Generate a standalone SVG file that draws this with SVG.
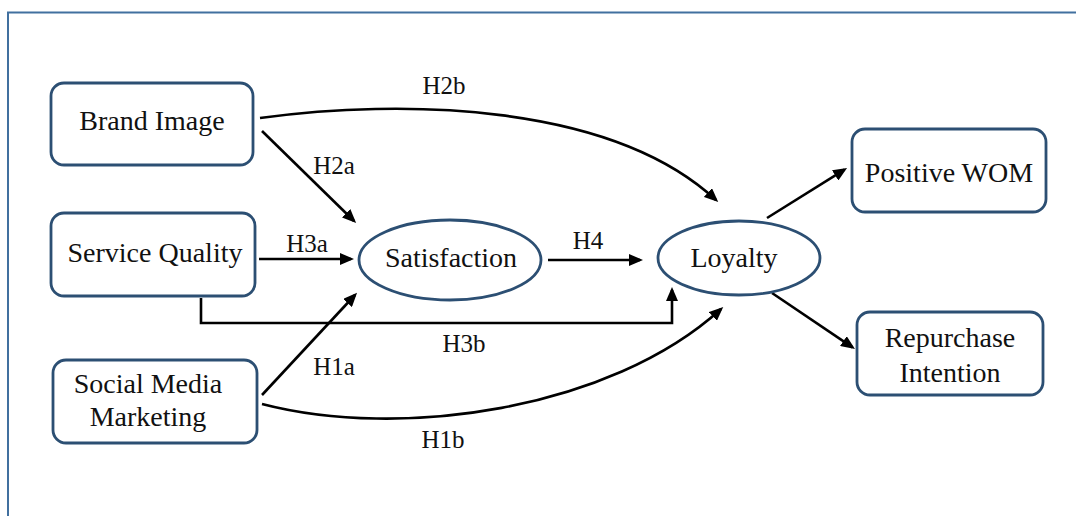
<svg xmlns="http://www.w3.org/2000/svg" width="1076" height="516" viewBox="0 0 1076 516">
<style>
.node{fill:#fff;stroke:#2c4f73;stroke-width:2.8}
.nt{font-family:"Liberation Serif","Times New Roman",serif;font-size:28px;fill:#111;text-anchor:middle}
.lb{font-family:"Liberation Serif","Times New Roman",serif;font-size:25px;fill:#111;text-anchor:middle}
.edge{fill:none;stroke:#000;stroke-width:2.6}
.frame{fill:none;stroke:#41709f;stroke-width:2}
</style>
<defs>
<marker id="arr" markerUnits="userSpaceOnUse" viewBox="0 0 14 12" markerWidth="14" markerHeight="12" refX="11" refY="6" orient="auto">
<path d="M0,0 L14,6 L0,12 z" fill="#000"/>
</marker>
</defs>
<rect width="1076" height="516" fill="#fff"/>
<path class="frame" d="M8,516 V12.5 H1076"/>
<g id="connectors">
<path id="e-h2a" class="edge" d="M262,131 L354,221" marker-end="url(#arr)"/>
<path id="e-h2b" class="edge" d="M260,118 C400,99 610,102 716,200" marker-end="url(#arr)"/>
<path id="e-h3a" class="edge" d="M259,259 H351" marker-end="url(#arr)"/>
<path id="e-h3b" class="edge" d="M201,298 V323 H672 V290" marker-end="url(#arr)"/>
<path id="e-h1a" class="edge" d="M262,395 L355,295" marker-end="url(#arr)"/>
<path id="e-h1b" class="edge" d="M262,404 C400,440 610,410 721,309" marker-end="url(#arr)"/>
<path id="e-h4" class="edge" d="M548,260 H640" marker-end="url(#arr)"/>
<path id="e-wom" class="edge" d="M767,218 L844.5,169.6" marker-end="url(#arr)"/>
<path id="e-rep" class="edge" d="M772,293 L852.5,347.3" marker-end="url(#arr)"/>
<text class="lb" x="444" y="94">H2b</text>
<text class="lb" x="334" y="174">H2a</text>
<text class="lb" x="307" y="252">H3a</text>
<text class="lb" x="588" y="249">H4</text>
<text class="lb" x="464" y="352">H3b</text>
<text class="lb" x="334" y="375">H1a</text>
<text class="lb" x="443" y="448">H1b</text>
</g>
<g id="brand-image">
<rect class="node" x="51" y="83" width="202" height="82" rx="13"/>
<text class="nt" x="152" y="130">Brand Image</text>
</g>
<g id="service-quality">
<rect class="node" x="51" y="213" width="204" height="83" rx="13"/>
<text class="nt" x="155" y="262">Service Quality</text>
</g>
<g id="social-media-marketing">
<rect class="node" x="53" y="360" width="204" height="83" rx="13"/>
<text class="nt" x="148" y="393">Social Media</text>
<text class="nt" x="148" y="426">Marketing</text>
</g>
<g id="satisfaction">
<ellipse class="node" cx="450" cy="260" rx="91" ry="40"/>
<text class="nt" x="451" y="267">Satisfaction</text>
</g>
<g id="loyalty">
<ellipse class="node" cx="739" cy="258" rx="81" ry="37"/>
<text class="nt" x="734" y="267">Loyalty</text>
</g>
<g id="positive-wom">
<rect class="node" x="852" y="129" width="194" height="83" rx="13"/>
<text class="nt" x="949" y="182">Positive WOM</text>
</g>
<g id="repurchase-intention">
<rect class="node" x="857" y="312" width="186" height="83" rx="13"/>
<text class="nt" x="950" y="347">Repurchase</text>
<text class="nt" x="950" y="382">Intention</text>
</g>
</svg>
